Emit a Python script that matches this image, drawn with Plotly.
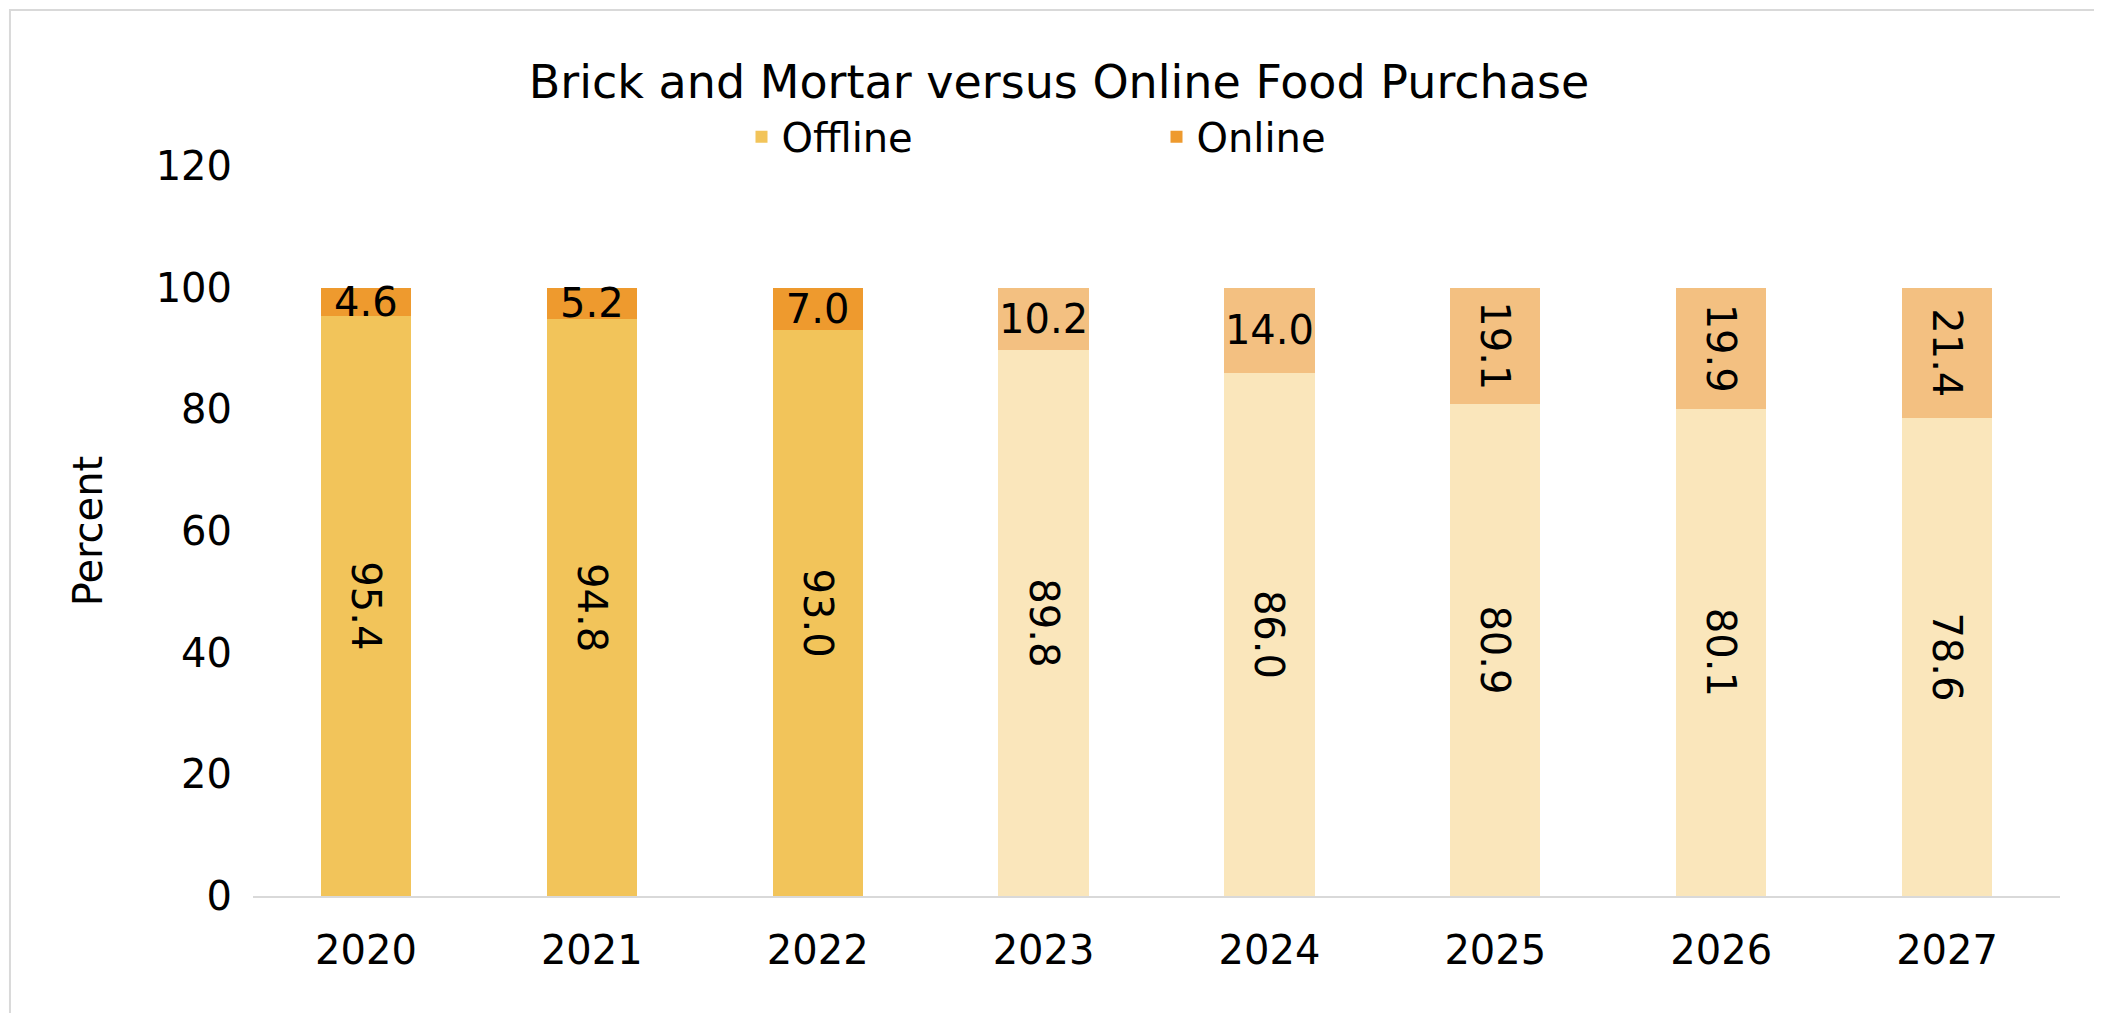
import plotly.graph_objects as go

years = ["2020", "2021", "2022", "2023", "2024", "2025", "2026", "2027"]
offline = [95.4, 94.8, 93.0, 89.8, 86.0, 80.9, 80.1, 78.6]
online = [4.6, 5.2, 7.0, 10.2, 14.0, 19.1, 19.9, 21.4]

# actuals are solid, forecast years are lighter
off_colors = ["#F2C45A"] * 3 + ["#FAE6BB"] * 5
on_colors = ["#EE9A2E"] * 3 + ["#F3C081"] * 5

font = "DejaVu Sans"
fs = 40
fig = go.Figure()
fig.add_trace(go.Bar(
    x=years, y=offline, name="Offline", marker=dict(color=off_colors, line_width=0),
    text=[f"{v:.1f}" for v in offline], textposition="inside", insidetextanchor="middle",
    textfont=dict(size=fs, color="black", family=font), constraintext="none",
))
fig.add_trace(go.Bar(
    x=years, y=online, name="Online", marker=dict(color=on_colors, line_width=0),
    text=[f"{v:.1f}" for v in online], textposition="inside", insidetextanchor="middle",
    textfont=dict(size=fs, color="black", family=font), constraintext="none",
))
fig.update_layout(
    barmode="stack", bargap=0.6,
    width=2102, height=1013,
    paper_bgcolor="white", plot_bgcolor="white",
    font=dict(family=font, size=fs, color="black"),
    title=dict(text="Brick and Mortar versus Online Food Purchase", x=0.5, xanchor="center",
               y=0.927, yanchor="middle", font=dict(size=46)),
    legend=dict(orientation="h", x=0.5, xanchor="center", y=1.04, yanchor="middle",
                font=dict(size=fs), itemwidth=30, traceorder="normal",
                entrywidthmode="pixels", entrywidth=370),
    margin=dict(l=245, r=50, t=158, b=125),
    showlegend=True,
    uniformtext=dict(minsize=34, mode="show"),
    shapes=[dict(type="rect", xref="paper", yref="paper", x0=-0.1345, x1=1.0266, y0=-0.168, y1=1.2137,
                 line=dict(color="#D9D9D9", width=2))],
)
fig.update_yaxes(range=[0, 120], dtick=20, showgrid=False, zeroline=False,
                 title=dict(text="Percent", font=dict(size=fs), standoff=40),
                 ticks="", tickfont=dict(size=fs), ticklabelstandoff=20)
fig.update_xaxes(showline=True, linecolor="#D9D9D9", linewidth=2, ticks="",
                 tickfont=dict(size=fs), ticklabelstandoff=18)
fig.write_html("out.html")
